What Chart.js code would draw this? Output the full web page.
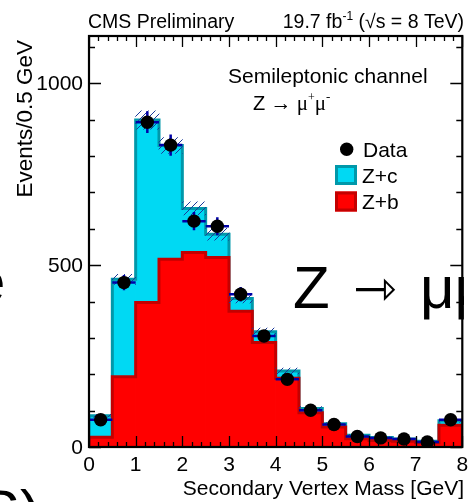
<!DOCTYPE html>
<html>
<head>
<meta charset="utf-8">
<script src="https://cdn.jsdelivr.net/npm/chart.js@4"></script>
<style>
  html, body { margin: 0; padding: 0; background: #fff; }
  canvas { display: block; }
</style>
</head>
<body>
<canvas id="chart" width="469" height="502"></canvas>
<script>
// 0.5 GeV bins of secondary vertex mass
const binLow = [0, 0.5, 1, 1.5, 2, 2.5, 3, 3.5, 4, 4.5, 5, 5.5, 6, 6.5, 7, 7.5];
const binWidth = 0.5;
const zbEvents = [27, 193, 397, 516, 535, 521, 373, 287, 189, 94, 55, 23, 18, 16, 12, 60];
const zcEvents = [59, 268, 502, 313, 121, 64, 35, 30, 20, 12, 9, 9, 8, 6, 4, 12];
const mcUnc = [4, 14, 25, 22, 18, 16, 12, 10, 8, 5, 3, 2, 2, 2, 1, 4];
const dataEvents = [75, 452, 893, 830, 621, 607, 420, 305, 186, 101, 62, 29, 25, 22, 14, 75];
const dataErr = [9, 21, 30, 29, 25, 25, 20, 17, 14, 10, 8, 5, 5, 5, 4, 9];
const xTickLabels = ['0', '1', '2', '3', '4', '5', '6', '7', '8'];
const yTickLabels = [0, 500, 1000];

const SANS = '"Liberation Sans", Arial, sans-serif';
const SERIF = '"Liberation Serif", "Times New Roman", serif';
const cyan = '#00d9f3', cyanLine = '#0098aa';
const red = '#ff0000', redLine = '#c40000';
const errBlue = '#0000a8';

const centers = binLow.map(lo => lo + binWidth / 2);
const totals = zbEvents.map((v, i) => v + zcEvents[i]);

function stepPoints(tops) {
  const end = binLow[binLow.length - 1] + binWidth;
  const pts = [{x: binLow[0], y: 0}];
  tops.forEach((v, i) => pts.push({x: binLow[i], y: v}));
  pts.push({x: end, y: tops[tops.length - 1]});
  pts.push({x: end, y: 0});
  return pts;
}

// hatch for the MC uncertainty
const hatchCanvas = document.createElement('canvas');
hatchCanvas.width = 7;
hatchCanvas.height = 7;
const hctx = hatchCanvas.getContext('2d');
hctx.strokeStyle = '#1a3a9a';
hctx.lineWidth = 1;
hctx.beginPath();
hctx.moveTo(0, 7);
hctx.lineTo(7, 0);
hctx.stroke();
const hatch = hctx.createPattern(hatchCanvas, 'repeat');

function drawRuns(ctx, runs, x, y, align) {
  let w = 0;
  runs.forEach(r => { ctx.font = r.font; w += ctx.measureText(r.t).width; });
  let cx = align === 'right' ? x - w : x;
  ctx.textAlign = 'left';
  ctx.textBaseline = 'alphabetic';
  runs.forEach(r => {
    ctx.font = r.font;
    ctx.fillText(r.t, cx, y + (r.dy || 0));
    cx += ctx.measureText(r.t).width;
  });
}

const decor = {
  id: 'decor',
  beforeDatasetDraw(chart, args) {
    if (args.meta.label !== 'Data') return;
    const ctx = chart.ctx, xs = chart.scales.x, ys = chart.scales.y;
    ctx.save();
    ctx.strokeStyle = errBlue;
    ctx.lineWidth = 2.5;
    dataEvents.forEach((v, i) => {
      const py = ys.getPixelForValue(v);
      ctx.beginPath();
      ctx.moveTo(xs.getPixelForValue(binLow[i]), py);
      ctx.lineTo(xs.getPixelForValue(binLow[i] + binWidth), py);
      const px = xs.getPixelForValue(centers[i]);
      ctx.moveTo(px, ys.getPixelForValue(v - dataErr[i]));
      ctx.lineTo(px, ys.getPixelForValue(v + dataErr[i]));
      ctx.stroke();
    });
    ctx.restore();
  },
  afterDraw(chart) {
    const ctx = chart.ctx, xs = chart.scales.x, ys = chart.scales.y;
    const a = chart.chartArea;
    ctx.save();
    ctx.fillStyle = '#000';
    ctx.strokeStyle = '#000';

    // ticks on all four sides, pointing inward
    ctx.lineWidth = 1.3;
    ctx.beginPath();
    for (let k = 0; k <= 40; k++) {
      const v = k * 0.2;
      const px = Math.round(xs.getPixelForValue(v)) + 0.5;
      const len = k % 5 === 0 ? 11 : 5;
      ctx.moveTo(px, a.bottom); ctx.lineTo(px, a.bottom - len);
      ctx.moveTo(px, a.top); ctx.lineTo(px, a.top + len);
    }
    for (let v = 0; v <= ys.max; v += 100) {
      const py = Math.round(ys.getPixelForValue(v)) + 0.5;
      const len = v % 500 === 0 ? 12 : 6;
      ctx.moveTo(a.left, py); ctx.lineTo(a.left + len, py);
      ctx.moveTo(a.right, py); ctx.lineTo(a.right - len, py);
    }
    ctx.stroke();

    // frame
    ctx.lineWidth = 2.2;
    ctx.strokeRect(a.left, a.top, a.right - a.left, a.bottom - a.top);

    // tick labels
    ctx.font = '21px ' + SANS;
    ctx.textAlign = 'center';
    ctx.textBaseline = 'alphabetic';
    xTickLabels.forEach(t => ctx.fillText(t, xs.getPixelForValue(Number(t)), 471));
    ctx.textAlign = 'right';
    ctx.textBaseline = 'middle';
    yTickLabels.forEach(v => ctx.fillText(String(v), 83, ys.getPixelForValue(v) + 1));

    // axis titles
    ctx.font = '21px ' + SANS;
    ctx.textAlign = 'right';
    ctx.textBaseline = 'alphabetic';
    ctx.fillText('Secondary Vertex Mass [GeV]', 464, 495);
    ctx.save();
    ctx.translate(32, 40);
    ctx.rotate(-Math.PI / 2);
    ctx.font = '22.5px ' + SANS;
    ctx.fillText('Events/0.5 GeV', 0, 0);
    ctx.restore();

    // header
    drawRuns(ctx, [{t: 'CMS Preliminary', font: '19.5px ' + SANS}], 88, 28, 'left');
    drawRuns(ctx, [
      {t: '19.7 fb', font: '19.5px ' + SANS},
      {t: '-1', font: '12px ' + SANS, dy: -8},
      {t: ' (', font: '19.5px ' + SANS},
      {t: '\u221As', font: '19.5px ' + SANS},
      {t: ' = 8 TeV)', font: '19.5px ' + SANS}
    ], 464, 28, 'right');

    // channel label
    drawRuns(ctx, [{t: 'Semileptonic channel', font: '21px ' + SANS}], 228, 83, 'left');
    drawRuns(ctx, [
      {t: 'Z', font: '20px ' + SANS},
      {t: ' \u2192 \u03BC', font: '21px ' + SERIF},
      {t: '+', font: '12px ' + SERIF, dy: -9},
      {t: '\u03BC', font: '21px ' + SERIF},
      {t: '-', font: '13px ' + SERIF, dy: -9}
    ], 253, 110, 'left');

    // legend
    ctx.beginPath();
    ctx.arc(346.7, 149.3, 6.7, 0, Math.PI * 2);
    ctx.fill();
    const boxes = [[cyan, cyanLine, 'Z+c', 165], [red, redLine, 'Z+b', 191.5]];
    boxes.forEach(([f, l, t, y]) => {
      ctx.fillStyle = f;
      ctx.fillRect(335, y, 22, 20);
      ctx.strokeStyle = l;
      ctx.lineWidth = 3;
      ctx.strokeRect(336.5, y + 1.5, 19, 17);
    });
    ctx.fillStyle = '#000';
    ctx.font = '21px ' + SANS;
    ctx.textAlign = 'left';
    ctx.textBaseline = 'alphabetic';
    ctx.fillText('Data', 363, 157);
    ctx.fillText('Z+c', 362, 183);
    ctx.fillText('Z+b', 362, 209);

    // slide text bleeding into the picture
    ctx.save();
    ctx.beginPath();
    ctx.rect(0, 0, 464, 502);
    ctx.clip();
    ctx.font = '60px ' + SANS;
    ctx.fillText('Z', 293, 308);
    ctx.fillText('\u03BC\u03BC', 420, 308);
    ctx.font = '52px "DejaVu Sans", sans-serif';
    ctx.fillText('\u21FE', 353, 306);
    ctx.font = '60px ' + SANS;
    ctx.fillText('e', -28, 302);
    ctx.fillText('S)', -20, 532);
    ctx.restore();

    ctx.restore();
  }
};

new Chart(document.getElementById('chart'), {
  type: 'bar',
  data: {
    datasets: [
      {
        type: 'scatter',
        label: 'Data',
        data: centers.map((x, i) => ({x, y: dataEvents[i]})),
        backgroundColor: '#000',
        borderColor: '#000',
        pointRadius: 6.7,
        borderWidth: 0,
        order: 0
      },
      {
        label: 'MC uncertainty',
        data: centers.map((x, i) => ({x, y: [totals[i] - mcUnc[i], totals[i] + mcUnc[i]]})),
        backgroundColor: hatch,
        borderWidth: 0,
        grouped: false,
        barPercentage: 1,
        categoryPercentage: 1,
        order: 1
      },
      {
        type: 'line',
        label: 'Z+b outline',
        data: stepPoints(zbEvents),
        borderColor: redLine,
        borderWidth: 3,
        pointRadius: 0,
        stepped: 'before',
        fill: false,
        order: 2
      },
      {
        label: 'Z+b',
        data: centers.map((x, i) => ({x, y: [0, zbEvents[i]]})),
        backgroundColor: red,
        borderWidth: 0,
        grouped: false,
        barPercentage: 1,
        categoryPercentage: 1,
        order: 3
      },
      {
        type: 'line',
        label: 'Z+c outline',
        data: stepPoints(totals),
        borderColor: cyanLine,
        borderWidth: 3,
        pointRadius: 0,
        stepped: 'before',
        fill: false,
        order: 4
      },
      {
        label: 'Z+c',
        data: centers.map((x, i) => ({x, y: [zbEvents[i], totals[i]]})),
        backgroundColor: cyan,
        borderWidth: 0,
        grouped: false,
        barPercentage: 1,
        categoryPercentage: 1,
        order: 5
      }
    ]
  },
  options: {
    responsive: false,
    animation: false,
    devicePixelRatio: 1,
    events: [],
    layout: {padding: {left: 89, top: 36, right: 5.5, bottom: 55}},
    plugins: {legend: {display: false}, tooltip: {enabled: false}},
    scales: {
      x: {type: 'linear', min: 0, max: 8, offset: false, display: false},
      y: {type: 'linear', min: 0, max: 1130, display: false}
    }
  },
  plugins: [decor]
});
</script>
</body>
</html>
